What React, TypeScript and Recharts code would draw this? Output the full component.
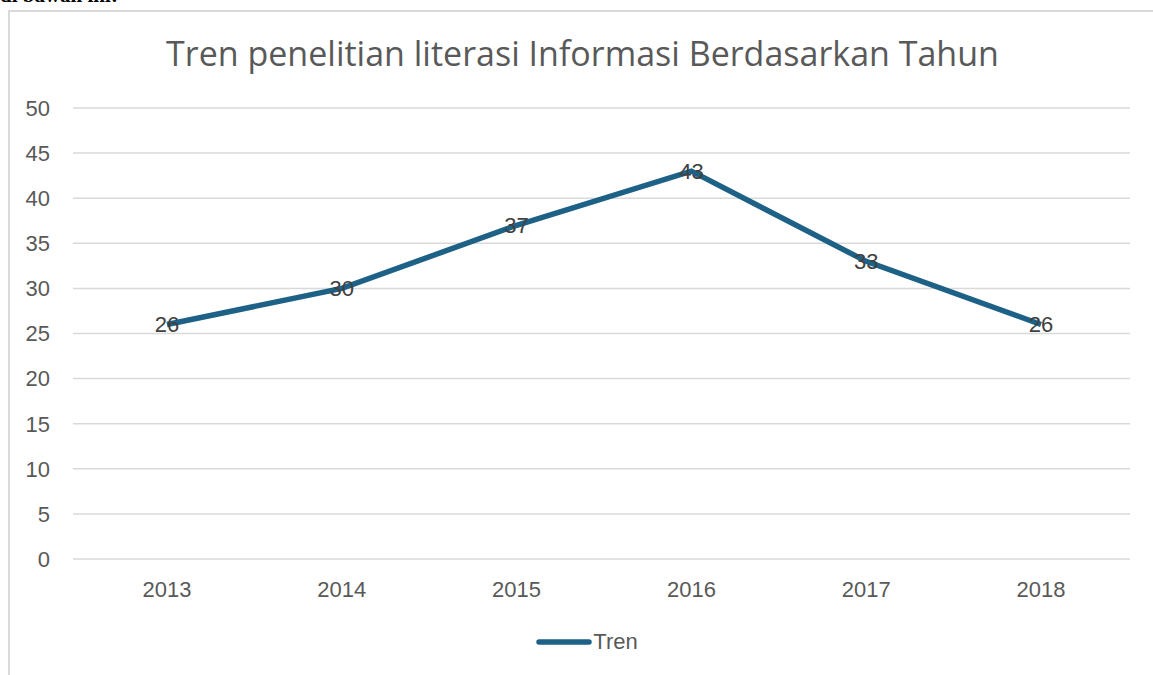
import React from 'react';
import { CartesianGrid, Line, LineChart, XAxis, YAxis } from 'recharts';

const years = ['2013', '2014', '2015', '2016', '2017', '2018'];
const trenValues = [26, 30, 37, 43, 33, 26];
const yTicks = [0, 5, 10, 15, 20, 25, 30, 35, 40, 45, 50];

const LINE_BLUE = '#1E6186';
const TEXT_GRAY = '#595959';
const GRID_GRAY = '#d9d9d9';
const SANS = "'Liberation Sans', Arial, sans-serif";

const data = years.map((year, i) => ({ year, tren: trenValues[i] }));

const renderLabel = (props: any) => {
  const { x, y, value } = props;
  return (
    <text
      x={x}
      y={y}
      textAnchor="middle"
      dominantBaseline="central"
      fill="#404040"
      fontSize={22}
      fontFamily={SANS}
    >
      {value}
    </text>
  );
};

export default function App() {
  return (
    <div
      style={{
        position: 'fixed',
        left: 0,
        top: 0,
        width: 1153,
        height: 675,
        overflow: 'hidden',
        background: '#fff',
      }}
    >
      {/* sliver of the document text above the chart */}
      <div
        style={{
          position: 'absolute',
          left: 0,
          top: -17,
          fontFamily: "'Liberation Serif', 'Times New Roman', serif",
          fontWeight: 'bold',
          fontSize: 21,
          color: '#000',
          whiteSpace: 'nowrap',
        }}
      >
        di bawah ini:
      </div>
      <div
        style={{
          position: 'absolute',
          left: 8,
          top: 10,
          width: 1200,
          height: 700,
          borderLeft: `2px solid ${GRID_GRAY}`,
          borderTop: `2px solid ${GRID_GRAY}`,
          boxSizing: 'border-box',
        }}
      />
      <div
        style={{
          position: 'absolute',
          left: 0,
          top: 30,
          width: 1165,
          textAlign: 'center',
          fontFamily: "'Open Sans', sans-serif",
          fontSize: 34,
          color: TEXT_GRAY,
          whiteSpace: 'nowrap',
        }}
      >
        Tren penelitian literasi Informasi Berdasarkan Tahun
      </div>
      <div style={{ position: 'absolute', left: 0, top: 0 }}>
        <LineChart
          width={1153}
          height={675}
          data={data}
          margin={{ top: 108, right: 23, bottom: 0, left: 8 }}
        >
          <CartesianGrid vertical={false} stroke={GRID_GRAY} strokeWidth={1.5} />
          <XAxis
            dataKey="year"
            axisLine={false}
            tickLine={false}
            tickSize={0}
            tickMargin={22}
            padding={{ left: 94, right: 89 }}
            tick={{ fill: TEXT_GRAY, fontSize: 22, fontFamily: SANS }}
            height={116}
          />
          <YAxis
            domain={[0, 50]}
            ticks={yTicks}
            axisLine={false}
            tickLine={false}
            tickSize={0}
            tickMargin={23}
            width={65}
            tick={{ fill: TEXT_GRAY, fontSize: 22, fontFamily: SANS }}
          />
          <Line
            type="linear"
            dataKey="tren"
            name="Tren"
            stroke={LINE_BLUE}
            strokeWidth={5.5}
            dot={false}
            activeDot={false}
            label={renderLabel}
            isAnimationActive={false}
          />
        </LineChart>
      </div>
      <div
        style={{
          position: 'absolute',
          left: 0,
          top: 629,
          width: 1173,
          display: 'flex',
          justifyContent: 'center',
          alignItems: 'center',
          fontFamily: SANS,
          fontSize: 22,
          color: TEXT_GRAY,
        }}
      >
        <svg width={58} height={10}>
          <line x1={4} y1={5} x2={54} y2={5} stroke={LINE_BLUE} strokeWidth={5.5} strokeLinecap="round" />
        </svg>
        <span>Tren</span>
      </div>
    </div>
  );
}
